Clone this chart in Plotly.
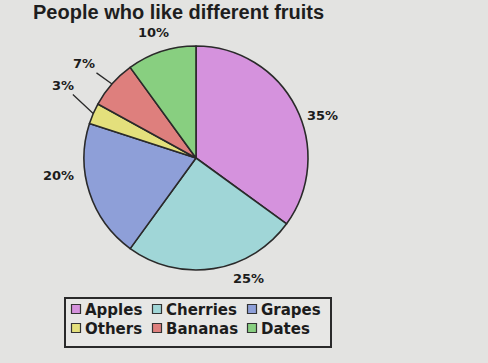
import math
import plotly.graph_objects as go

# Fruit survey data
fruits = ["Apples", "Cherries", "Grapes", "Others", "Bananas", "Dates"]
shares = [35, 25, 20, 3, 7, 10]
colors = ["#d592dd", "#a0d6d7", "#8e9fd8", "#e4e07c", "#de7f7d", "#88cf80"]

W, H = 488, 363
BG = "#e3e3e1"
INK = "#1c1c1c"

# Pie geometry in pixels
cx, cy, R = 196, 158, 112


def px(x):
    return x / W


def py(y):
    return 1 - y / H


fig = go.Figure(
    go.Pie(
        labels=fruits,
        values=shares,
        marker=dict(colors=colors, line=dict(color="#2a2a2a", width=1.6)),
        sort=False,
        direction="clockwise",
        rotation=0,
        textinfo="none",
        hoverinfo="label+percent",
        domain=dict(x=[px(cx - R), px(cx + R)], y=[py(cy + R), py(cy - R)]),
    )
)

total = sum(shares)
labels_text = [f"{v / total * 100:.0f}%" for v in shares]
label_font = dict(family="DejaVu Sans", size=13, color=INK, weight="bold")

# Free-standing percentage labels around the pie
free_pos = {"Apples": (322, 115), "Cherries": (248, 278), "Grapes": (58, 175), "Dates": (153, 32)}
annotations = []
shapes = []
for name, txt in zip(fruits, labels_text):
    if name in free_pos:
        x, y = free_pos[name]
        annotations.append(dict(
            x=px(x), y=py(y), xref="paper", yref="paper", text=txt, showarrow=False,
            font=label_font, xanchor="center", yanchor="middle",
        ))

# Leader-line labels for the thin slices
leader_off = {"Others": (-30, -28), "Bananas": (-28, -20)}
cum = 0
for name, v, txt in zip(fruits, shares, labels_text):
    mid = (cum + v / 2) / total * 2 * math.pi
    cum += v
    if name in leader_off:
        ex = cx + math.sin(mid) * R
        ey = cy - math.cos(mid) * R
        ax, ay = leader_off[name]
        annotations.append(dict(
            x=px(ex), y=py(ey), xref="paper", yref="paper", text=txt, showarrow=True,
            arrowhead=0, arrowwidth=1.3, arrowcolor="#2a2a2a", ax=ax, ay=ay, standoff=0,
            font=label_font,
        ))

# Title along the top edge
annotations.append(dict(
    x=px(178), y=py(0), xref="paper", yref="paper", text="People who like different fruits",
    showarrow=False, xanchor="center", yanchor="top", borderpad=0,
    font=dict(family="Liberation Sans", size=20, color="#1e1e1e", weight="bold"),
))

# Boxed legend: three columns, two rows
box_l, box_t, box_r, box_b = 65, 298, 331, 347
shapes.append(dict(
    type="rect", xref="paper", yref="paper",
    x0=px(box_l), x1=px(box_r), y0=py(box_b), y1=py(box_t),
    line=dict(color="#2a2a2a", width=2), fillcolor="#e7e7e5", layer="below",
))
col_x = [76, 157, 252]
row_y = [309, 328]
sw = 4.5
for i, (name, col) in enumerate(zip(fruits, colors)):
    mx, my = col_x[i % 3], row_y[i // 3]
    shapes.append(dict(
        type="rect", xref="paper", yref="paper",
        x0=px(mx - sw), x1=px(mx + sw), y0=py(my + sw), y1=py(my - sw),
        line=dict(color="#333333", width=1.2), fillcolor=col,
    ))
    annotations.append(dict(
        x=px(mx + sw + 2), y=py(my + 1), xref="paper", yref="paper", text=name,
        showarrow=False, xanchor="left", yanchor="middle",
        font=dict(family="DejaVu Sans", size=15, color=INK, weight="bold"),
    ))

fig.update_layout(
    width=W, height=H,
    margin=dict(l=0, r=0, t=0, b=0),
    paper_bgcolor=BG, plot_bgcolor=BG,
    showlegend=False,
    annotations=annotations,
    shapes=shapes,
    font=dict(family="DejaVu Sans"),
)

fig.write_html("out.html")
